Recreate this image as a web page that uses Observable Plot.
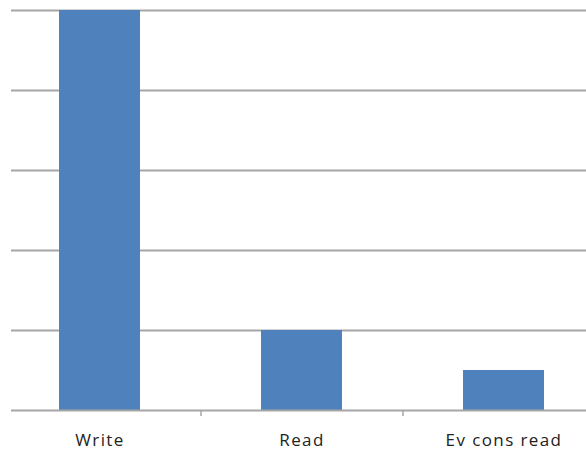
<!DOCTYPE html>
<html>
<head>
<meta charset="utf-8">
<script src="https://cdn.jsdelivr.net/npm/d3@7"></script>
<script src="https://cdn.jsdelivr.net/npm/@observablehq/plot@0.6"></script>
<style>
  html, body { margin: 0; padding: 0; background: #fff; }
  #chart { width: 586px; height: 456px; overflow: hidden; }
  #chart svg text { letter-spacing: 1.4px; }
</style>
</head>
<body>
<div id="chart"></div>
<script>
const categories = ["Write", "Read", "Ev cons read"];
const values = [5, 1, 0.5];
const gridValues = [0, 1, 2, 3, 4, 5];

const data = categories.map((c, i) => ({cat: c, val: values[i]}));

const chart = Plot.plot({
  width: 586,
  height: 456,
  marginLeft: 11,
  marginRight: 0,
  marginTop: 10,
  marginBottom: 46,
  style: {background: "#fff", fontFamily: "'Open Sans', sans-serif"},
  x: {domain: categories, range: [-2, 604], paddingInner: 0.6, paddingOuter: 0.3, axis: null},
  y: {domain: [0, 5], axis: null},
  marks: [
    Plot.ruleY(gridValues.slice(1), {stroke: "#a6a6a6", strokeWidth: 2}),
    Plot.barY(data, {x: "cat", y: "val", fill: "#4f81bd"}),
    Plot.ruleY([0], {stroke: "#a6a6a6", strokeWidth: 2}),
    Plot.axisX({ticks: categories.slice(0, -1), tickFormat: () => "", label: null, dx: 101, tickSize: 6, stroke: "#a6a6a6", strokeWidth: 1.5}),
    Plot.axisX({tickSize: 0, tickPadding: 23, fontSize: 17, label: null, fill: "#222"})
  ]
});
document.getElementById("chart").appendChild(chart);
</script>
</body>
</html>
